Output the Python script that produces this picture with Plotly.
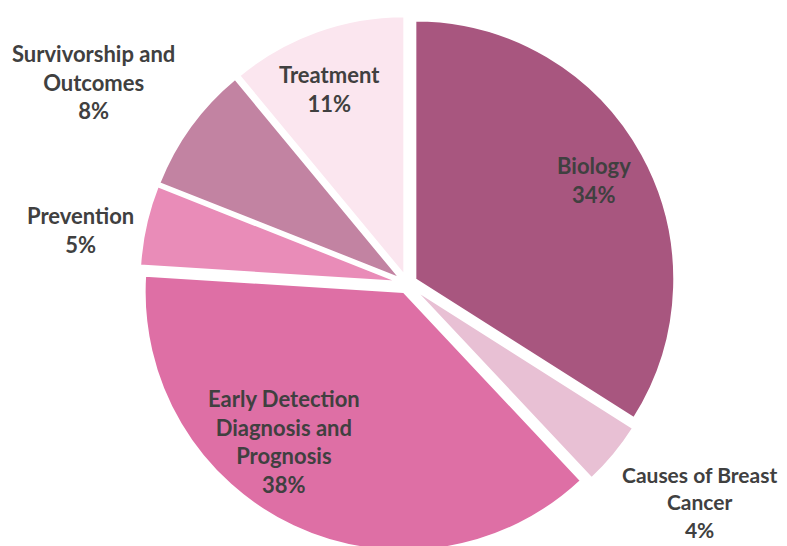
import plotly.graph_objects as go

categories = ["Biology", "Causes of Breast<br>Cancer", "Early Detection<br>Diagnosis and<br>Prognosis",
              "Prevention", "Survivorship and<br>Outcomes", "Treatment"]
values = [34, 4, 38, 5, 8, 11]
colors = ["#A8567F", "#E8C0D4", "#DE6FA5", "#E98CB8", "#C283A2", "#FBE6EF"]
# label centres in pixels (x, y from top) of the 787x546 canvas
label_pos = [(586, 172), (691, 494), (276, 433), (72, 222), (85, 74), (321, 81)]
label_size = [22, 21, 22, 22, 22, 22]

W, H = 787, 546

fig = go.Figure(go.Pie(
    labels=categories,
    values=values,
    sort=False,
    direction="clockwise",
    rotation=0,
    marker=dict(colors=colors, line=dict(color="white", width=2)),
    pull=0.035,
    textinfo="none",
    domain=dict(x=[0.167, 0.848], y=[0.0, 0.99]),
    showlegend=False,
    hoverinfo="label+percent",
))

for lab, val, (px, py), fs in zip(categories, values, label_pos, label_size):
    fig.add_annotation(
        x=px / W, y=1 - py / H, xref="paper", yref="paper",
        text=f"{lab}<br>{val}%", showarrow=False,
        xanchor="center", yanchor="middle", align="center",
        font=dict(family="Lato", size=fs, color="#404040", weight="bold"),
    )

fig.update_layout(
    width=W, height=H,
    margin=dict(l=0, r=0, t=0, b=0),
    paper_bgcolor="white",
    plot_bgcolor="white",
)

fig.write_html("out.html")
